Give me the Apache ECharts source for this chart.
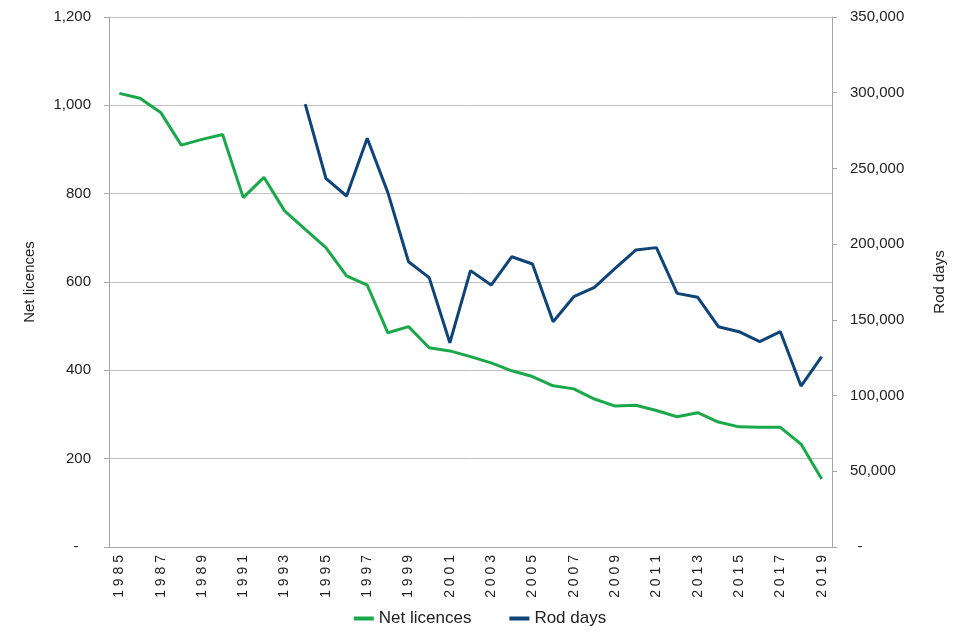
<!DOCTYPE html>
<html><head><meta charset="utf-8">
<script src="https://cdn.jsdelivr.net/npm/echarts@6/dist/echarts.min.js"></script>
<style>html,body{margin:0;padding:0;background:#fff}#c{width:960px;height:640px}</style>
</head><body><div id="c"></div>
<script>
const years = [];
for (let y = 1985; y <= 2019; y++) years.push(String(y));
const netLicences = [1027,1016,984,910,923,934,791,837,761,719,678,614,593,485,499,451,444,431,417,399,386,365,358,335,319,321,309,295,304,283,272,271,271,233,154];
const rodDays = [null,null,null,null,null,null,null,null,null,292500,243500,231800,269900,234000,188400,177900,134900,182500,173000,191700,186900,148800,165300,171500,184000,196100,197700,167500,164900,145500,142200,135600,142200,106300,125700];

const font = 'Liberation Sans, Arial, sans-serif';
const chart = echarts.init(document.getElementById('c'));
chart.setOption({
  animation: false,
  grid: {left: 109, right: 128, top: 17, bottom: 93},
  legend: {
    bottom: 8, left: 'center', itemWidth: 20, itemHeight: 4, icon: 'rect', itemGap: 38,
    textStyle: {fontFamily: 'Liberation Sans Narrow, Arial Narrow, sans-serif', fontSize: 17, color: '#222'},
    data: ['Net licences', 'Rod days']
  },
  xAxis: {
    type: 'category', data: years, boundaryGap: true,
    axisLine: {lineStyle: {color: '#a6a6a6'}},
    axisTick: {show: false},
    axisLabel: {interval: 1, rotate: 90, color: '#222', fontSize: 14, fontFamily: font, margin: 8,
      formatter: v => v.split('').join(' ')}
  },
  yAxis: [{
    type: 'value', min: 0, max: 1200, interval: 200, name: 'Net licences',
    nameLocation: 'middle', nameGap: 72, nameTextStyle: {fontFamily: font, fontSize: 15, color: '#222'},
    axisLine: {show: true, lineStyle: {color: '#a6a6a6'}},
    axisTick: {show: true, length: 5, lineStyle: {color: '#a6a6a6'}},
    splitLine: {lineStyle: {color: '#bfbfbf'}},
    axisLabel: {formatter: v => v === 0 ? '-   ' : v.toLocaleString('en-US'), color: '#222', fontSize: 15, fontFamily: font, margin: 18}
  }, {
    type: 'value', min: 0, max: 350000, interval: 50000, name: 'Rod days', position: 'right',
    nameLocation: 'middle', nameGap: 100, nameTextStyle: {fontFamily: font, fontSize: 15, color: '#222'},
    axisLine: {show: true, lineStyle: {color: '#a6a6a6'}},
    axisTick: {show: true, length: 5, lineStyle: {color: '#a6a6a6'}},
    splitLine: {show: false},
    axisLabel: {formatter: v => v === 0 ? '\u2002-' : v.toLocaleString('en-US'), color: '#222', fontSize: 15, fontFamily: font, margin: 18}
  }],
  series: [{
    name: 'Net licences', type: 'line', data: netLicences, yAxisIndex: 0,
    showSymbol: false, lineStyle: {color: '#1aa84a', width: 3}, itemStyle: {color: '#1aa84a'}
  }, {
    name: 'Rod days', type: 'line', data: rodDays, yAxisIndex: 1,
    showSymbol: false, lineStyle: {color: '#0e4478', width: 3}, itemStyle: {color: '#0e4478'}
  }]
});
</script></body></html>
